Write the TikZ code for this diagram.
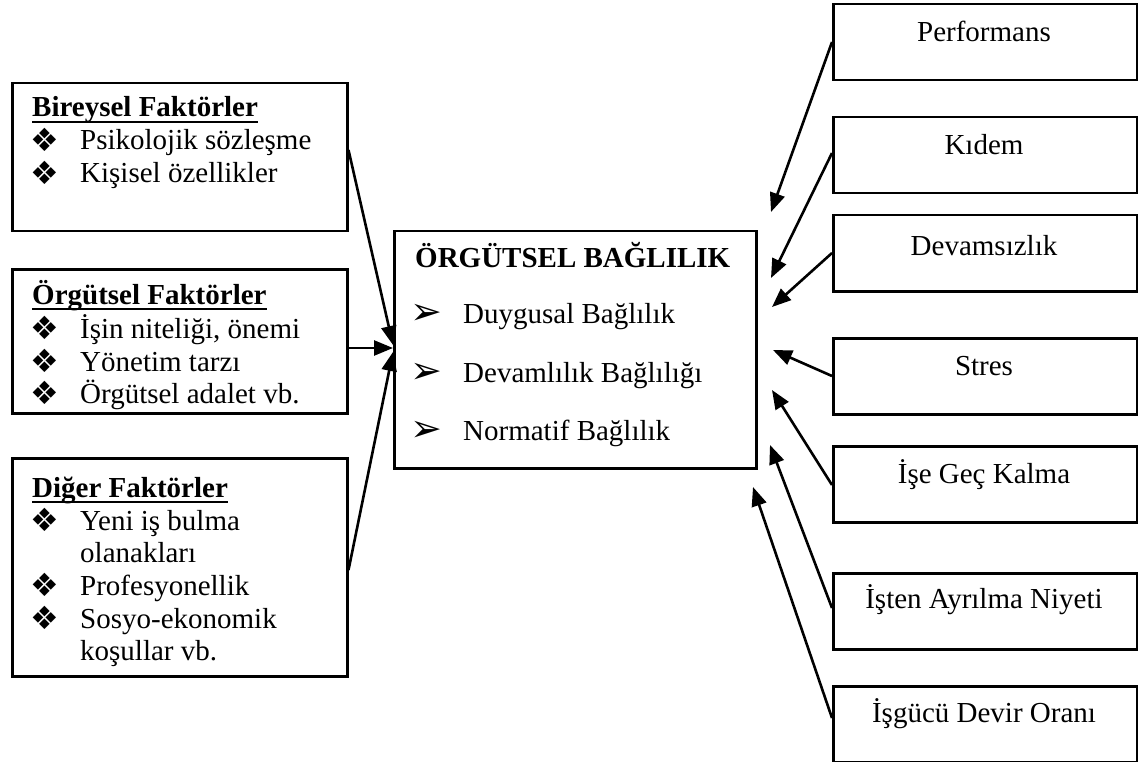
\documentclass[tikz,border=0pt]{standalone}
\usepackage{fontspec}
\setmainfont{Liberation Serif}
\newfontfamily\dingfont{DejaVu Sans}
\usetikzlibrary{arrows.meta,calc}
\newcommand\diabullet{{\dingfont\fontsize{32}{32}\selectfont ❖}}
\newcommand\arrbullet{{\dingfont\fontsize{38}{38}\selectfont ➢}}
\begin{document}
\begin{tikzpicture}[x=1pt,y=-1pt,
  every node/.style={font=\fontsize{29}{34}\selectfont},
  frame/.style={draw, line width=2.5pt, rectangle, inner sep=0pt, anchor=north west},
  txt/.style={inner sep=0pt, anchor=base west},
  bul/.style={inner sep=0pt, anchor=center},
  ctxt/.style={inner sep=0pt, anchor=base},
  head/.style={inner sep=0pt, anchor=base west, font=\fontsize{29}{34}\selectfont\bfseries},
  uline/.style={line width=2.5pt},
  arr/.style={line width=2.6pt, -{Triangle[length=19pt,width=15pt]}},
  rbox/.style={frame, minimum width=304pt, minimum height=76pt}]
\useasboundingbox (0,0) rectangle (1138,762);

% ---- left column: antecedents ----
\node[frame, minimum width=335pt, minimum height=148pt] (bir) at (11,82) {};
\node[head] (birH) at (32,117) {Bireysel Faktörler};
\draw[uline] ($(birH.base west)+(0,5)$) -- ($(birH.base east)+(0,5)$);
\node[bul] (birB1) at (45,140) {\diabullet};
\node[txt] (birT1) at (80,150) {Psikolojik sözleşme};
\node[bul] (birB2) at (45,173) {\diabullet};
\node[txt] (birT2) at (80,183) {Kişisel özellikler};

\node[frame, minimum width=335pt, minimum height=144pt] (org) at (11,268) {};
\node[head] (orgH) at (32,304) {Örgütsel Faktörler};
\draw[uline] ($(orgH.base west)+(0,5)$) -- ($(orgH.base east)+(0,5)$);
\node[bul] (orgB1) at (45,328) {\diabullet};
\node[txt] (orgT1) at (80,338) {İşin niteliği, önemi};
\node[bul] (orgB2) at (45,361) {\diabullet};
\node[txt] (orgT2) at (80,371) {Yönetim tarzı};
\node[bul] (orgB3) at (45,393) {\diabullet};
\node[txt] (orgT3) at (80,403) {Örgütsel adalet vb.};

\node[frame, minimum width=335pt, minimum height=218pt] (dig) at (11,457) {};
\node[head] (digH) at (32,497) {Diğer Faktörler};
\draw[uline] ($(digH.base west)+(0,5)$) -- ($(digH.base east)+(0,5)$);
\node[bul] (digB1) at (45,520) {\diabullet};
\node[txt] (digT1) at (80,530) {Yeni iş bulma};
\node[txt] (digT1b) at (80,562) {olanakları};
\node[bul] (digB2) at (45,585) {\diabullet};
\node[txt] (digT2) at (80,595) {Profesyonellik};
\node[bul] (digB3) at (45,618) {\diabullet};
\node[txt] (digT3) at (80,628) {Sosyo-ekonomik};
\node[txt] (digT3b) at (80,660) {koşullar vb.};

% ---- centre: organisational commitment ----
\node[frame, minimum width=362pt, minimum height=237pt] (ob) at (393,230) {};
\node[head] (obH) at (415,267) {ÖRGÜTSEL BAĞLILIK};
\node[bul] (obB1) at (426,314) {\arrbullet};
\node[txt] (obT1) at (463,323) {Duygusal Bağlılık};
\node[bul] (obB2) at (426,373) {\arrbullet};
\node[txt] (obT2) at (463,382) {Devamlılık Bağlılığı};
\node[bul] (obB3) at (426,431) {\arrbullet};
\node[txt] (obT3) at (463,440) {Normatif Bağlılık};

% ---- right column: outcomes ----
\node[rbox] (perf) at (832,3) {};
\node[ctxt] (perfT) at (984,42) {Performans};
\node[rbox] (kid) at (832,116) {};
\node[ctxt] (kidT) at (984,155) {Kıdem};
\node[rbox] (dev) at (832,214) {};
\node[ctxt] (devT) at (984,255) {Devamsızlık};
\node[rbox] (str) at (832,337) {};
\node[ctxt] (strT) at (984,375) {Stres};
\node[rbox] (gec) at (832,445) {};
\node[ctxt] (gecT) at (984,483) {İşe Geç Kalma};
\node[rbox] (ayr) at (832,572) {};
\node[ctxt] (ayrT) at (984,608) {İşten Ayrılma Niyeti};
\node[rbox] (dvr) at (832,685) {};
\node[ctxt] (dvrT) at (984,722) {İşgücü Devir Oranı};

% arrow end points beside the centre box
\coordinate (inA) at (393,345);
\coordinate (inB) at (393,348);
\coordinate (inC) at (393,352);
\coordinate (p1) at (771,212);
\coordinate (p2) at (771,278);
\coordinate (p3) at (772,307);
\coordinate (p4) at (773,350);
\coordinate (p5) at (772,390);
\coordinate (p6) at (770,445);
\coordinate (p7) at (753,487);

% ---- connectors ----
\draw[arr] ($(bir.north east)+(0,68)$) -- (inA);
\draw[arr] ($(org.north east)+(0,80)$) -- (inB);
\draw[arr] ($(dig.north east)+(0,113)$) -- (inC);

\draw[arr] ($(perf.north west)+(0,39)$) -- (p1);
\draw[arr] ($(kid.north west)+(0,37)$) -- (p2);
\draw[arr] ($(dev.north west)+(0,39)$) -- (p3);
\draw[arr] ($(str.north west)+(0,39)$) -- (p4);
\draw[arr] ($(gec.north west)+(0,40)$) -- (p5);
\draw[arr] ($(ayr.north west)+(0,36)$) -- (p6);
\draw[arr] ($(dvr.north west)+(0,33)$) -- (p7);
\end{tikzpicture}
\end{document}
